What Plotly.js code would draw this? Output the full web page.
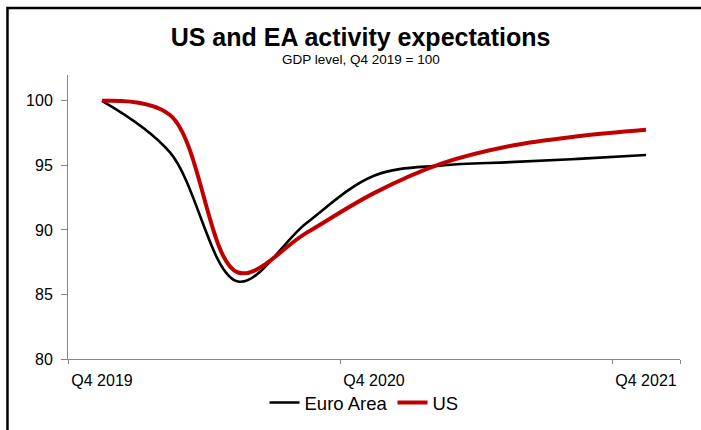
<!DOCTYPE html>
<html>
<head>
<meta charset="utf-8">
<script src="https://cdn.plot.ly/plotly-3.0.1.min.js"></script>
<style>
  html, body { margin: 0; padding: 0; background: #ffffff; }
  #chart { width: 701px; height: 430px; }
</style>
</head>
<body>
<div id="chart"></div>
<script>
// Quarterly GDP level paths, Q4 2019 = 100
const quarters = ["Q4 2019", "Q1 2020", "Q2 2020", "Q3 2020", "Q4 2020",
                  "Q1 2021", "Q2 2021", "Q3 2021", "Q4 2021"];
const euroArea = [100, 96.0, 86.0, 90.5, 94.2, 95.0, 95.25, 95.5, 95.8];
const us       = [100, 98.9, 86.7, 89.75, 92.85, 95.15, 96.5, 97.25, 97.75];
const labelledQuarters = ["Q4 2019", "Q4 2020", "Q4 2021"];

const font = "Liberation Sans, Arial, sans-serif";
const axisGrey = "#868686";

const traces = [
  {
    x: quarters, y: euroArea, name: "Euro Area", type: "scatter", mode: "lines",
    line: { color: "#000000", width: 2.6, shape: "spline", smoothing: 1 },
    hoverinfo: "skip"
  },
  {
    x: quarters, y: us, name: "US", type: "scatter", mode: "lines",
    line: { color: "#c00000", width: 4, shape: "spline", smoothing: 1 },
    hoverinfo: "skip"
  }
];

const layout = {
  width: 701, height: 430,
  margin: { l: 68, r: 21, t: 75, b: 71, autoexpand: false },
  paper_bgcolor: "#ffffff", plot_bgcolor: "#ffffff",
  font: { family: font, color: "#000000", size: 16 },
  title: {
    text: "<b>US and EA activity expectations</b>",
    font: { family: font, size: 25, color: "#000000" },
    xref: "container", x: 0.5143, xanchor: "center",
    yref: "container", y: 0.914, yanchor: "middle"
  },
  annotations: [{
    text: "GDP level, Q4 2019 = 100",
    xref: "paper", yref: "paper", x: 0.479, y: 1.0546,
    xanchor: "center", yanchor: "middle", showarrow: false,
    font: { family: font, size: 13.5, color: "#000000" }
  }],
  xaxis: {
    type: "category",
    tickmode: "array", tickvals: labelledQuarters, ticktext: labelledQuarters,
    tickson: "boundaries",
    tickangle: 0,
    automargin: false,
    range: [-0.5, 8.5],
    showline: true, linecolor: axisGrey, linewidth: 1,
    ticks: "outside", ticklen: 4, tickcolor: axisGrey, tickwidth: 1,
    showgrid: false, zeroline: false,
    tickfont: { family: font, size: 16, color: "#000000" },
    ticklabelstandoff: 7,
    fixedrange: true
  },
  yaxis: {
    range: [80, 102],
    automargin: false,
    tickmode: "array", tickvals: [80, 85, 90, 95, 100],
    showline: true, linecolor: axisGrey, linewidth: 1,
    ticks: "outside", ticklen: 6, tickcolor: axisGrey, tickwidth: 1,
    showgrid: false, zeroline: false,
    tickfont: { family: font, size: 16, color: "#000000" },
    ticklabelstandoff: 5,
    fixedrange: true
  },
  showlegend: true,
  legend: {
    orientation: "h",
    xref: "paper", x: 0.4837, xanchor: "center",
    yref: "paper", y: -0.155, yanchor: "middle",
    font: { family: font, size: 18.5, color: "#000000" },
    bgcolor: "rgba(0,0,0,0)",
    itemwidth: 30
  },
  shapes: [{
    // outer frame, running off the right and bottom edges
    type: "rect", xref: "paper", yref: "paper",
    x0: -0.0989, x1: 1.06, y0: -0.3, y1: 1.2359,
    line: { color: "#000000", width: 2.5 },
    fillcolor: "rgba(0,0,0,0)", layer: "below"
  }]
};

Plotly.newPlot("chart", traces, layout, { displayModeBar: false, staticPlot: true });
</script>
</body>
</html>
